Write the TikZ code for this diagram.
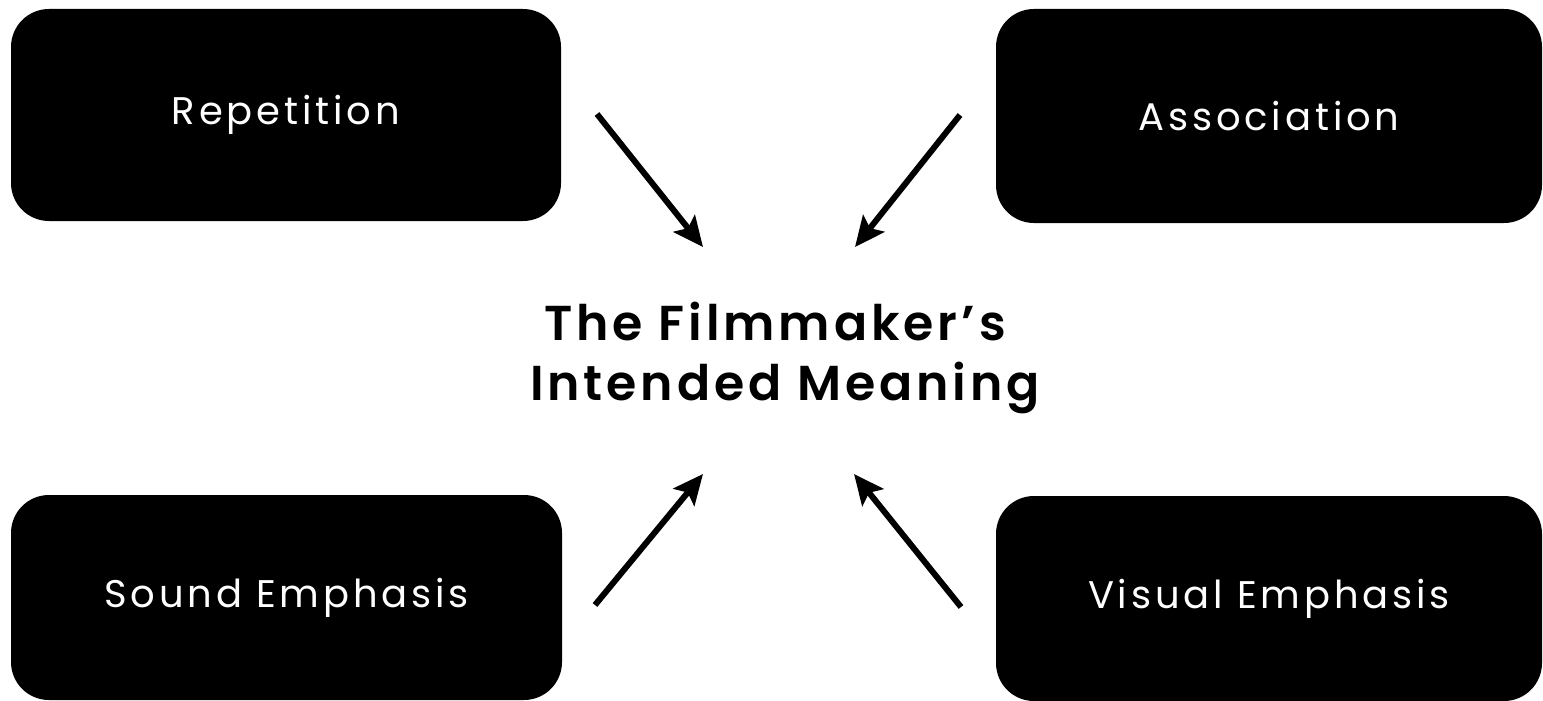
\documentclass[tikz,border=0pt]{standalone}
\usepackage{fontspec}
\setmainfont{Poppins}[BoldFont={Poppins SemiBold}]
\newfontfamily\boxfont{Poppins}[LetterSpace=10]
\newfontfamily\titlefont{Poppins SemiBold}[LetterSpace=8]
\usetikzlibrary{arrows.meta}
\begin{document}
\begin{tikzpicture}[x=1pt,y=-1pt,
  box/.style={fill=black,rounded corners=38pt,inner sep=0pt,text=white,
    font=\boxfont\fontsize{38.5}{42}\selectfont},
  conn/.style={line width=6pt,-{Stealth[length=30pt,width=27pt,inset=6pt]}},
  title/.style={font=\titlefont\fontsize{49}{60}\selectfont,align=center,inner sep=0pt}]
\useasboundingbox (0,0) rectangle (1543,701);
\node[box,minimum width=550pt,minimum height=212pt] (rep) at (286,115) {Repetition};
\node[box,minimum width=546pt,minimum height=214pt] (ass) at (1269,116) {Association};
\node[box,minimum width=551pt,minimum height=205pt] (snd) at (286.5,597.5) {Sound Emphasis};
\node[box,minimum width=546pt,minimum height=205pt] (vis) at (1269,598.5) {Visual Emphasis};
\node[title,anchor=base] (t1) at (775,340) {The Filmmaker’s};
\node[title,anchor=base] (t2) at (785,400) {Intended Meaning};
\coordinate (a1s) at (597,114); \coordinate (a1e) at (703,247);
\coordinate (a2s) at (960,115); \coordinate (a2e) at (855,247);
\coordinate (a3s) at (595,605); \coordinate (a3e) at (703,474);
\coordinate (a4s) at (961,607); \coordinate (a4e) at (854,474);
\draw[conn] (a1s) -- (a1e);
\draw[conn] (a2s) -- (a2e);
\draw[conn] (a3s) -- (a3e);
\draw[conn] (a4s) -- (a4e);
\end{tikzpicture}
\end{document}
